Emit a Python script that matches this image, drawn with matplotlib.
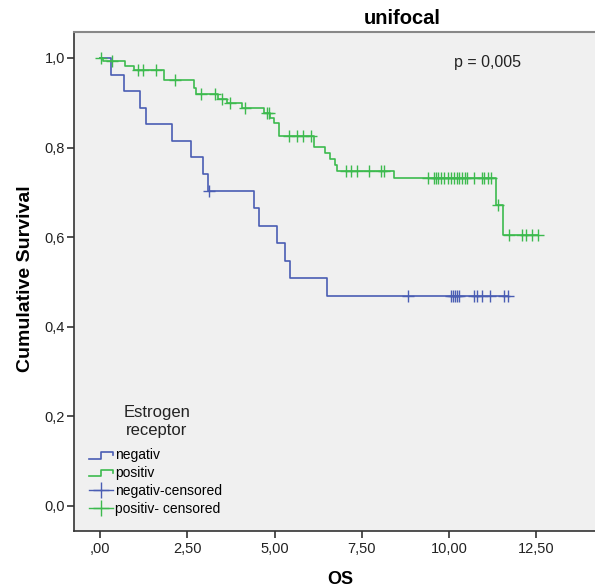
import numpy as np
import matplotlib
matplotlib.use("Agg")
import matplotlib.pyplot as plt
from matplotlib.lines import Line2D
from matplotlib.legend_handler import HandlerBase

plt.rcParams['font.family'] = ['Liberation Sans', 'DejaVu Sans']

# ---- data ----
neg_event_t = [0.32, 0.67, 1.13, 1.30, 2.06, 2.61, 2.96, 3.10, 4.41, 4.55, 5.07, 5.30, 5.45, 6.49]
neg_surv = [0.963, 0.926, 0.889, 0.852, 0.815, 0.778, 0.741, 0.704, 0.665, 0.626, 0.586, 0.547, 0.508, 0.469]
neg_cens_t = [3.12, 8.81, 10.06, 10.12, 10.18, 10.23, 10.27, 10.70, 10.81, 10.93, 11.16, 11.57, 11.70]

pos_event_t = [0.09, 0.72, 0.96, 1.83, 2.70, 2.75, 3.39, 3.62, 4.06, 4.70, 4.87, 4.99, 5.13,
               6.14, 6.43, 6.58, 6.72, 6.78, 8.43, 11.33, 11.54]
pos_surv = [0.993, 0.982, 0.973, 0.951, 0.933, 0.920, 0.908, 0.900, 0.888, 0.877, 0.866, 0.855, 0.826,
            0.801, 0.788, 0.775, 0.761, 0.748, 0.732, 0.672, 0.605]
pos_cens_t = [0.03, 0.35, 1.07, 1.22, 1.59, 2.14, 2.90, 3.30, 3.48, 3.71, 4.14, 4.78, 4.84,
              5.42, 5.65, 5.80, 6.03, 7.04, 7.19, 7.36, 7.71, 8.06, 8.14,
              9.39, 9.57, 9.62, 9.68, 9.77, 9.86, 9.97, 10.06, 10.14, 10.23, 10.29, 10.38, 10.46,
              10.52, 10.70, 10.93, 11.01, 11.10, 11.19, 11.39, 11.71, 12.09, 12.20, 12.38, 12.55]

x_ticks = [0, 2.5, 5, 7.5, 10, 12.5]
x_labels = [',00', '2,50', '5,00', '7,50', '10,00', '12,50']
y_ticks = [0, 0.2, 0.4, 0.6, 0.8, 1.0]
y_labels = ['0,0', '0,2', '0,4', '0,6', '0,8', '1,0']
legend_title = ['Estrogen', 'receptor']
legend_labels = ['negativ', 'positiv', 'negativ-censored', 'positiv- censored']

BLUE = '#4a5db3'
GREEN = '#3dba4e'
BG = '#f0f0f0'


def km_curve(ev_t, surv, cens_t):
    end = max(max(ev_t), max(cens_t))
    t = np.concatenate([[0.0], ev_t, [end]])
    s = np.concatenate([[1.0], surv, [surv[-1]]])
    idx = np.searchsorted(np.asarray(ev_t), np.asarray(cens_t), side='right')
    s_all = np.concatenate([[1.0], surv])
    cs = s_all[idx]
    return t, s, np.asarray(cens_t), cs


fig = plt.figure(figsize=(5.95, 5.88), dpi=100)
fig.patch.set_facecolor('white')
ax = fig.add_axes([74 / 595, 1 - 531 / 588, 1 - 74 / 595 + 0.01, (531 - 32) / 588])
ax.set_facecolor(BG)

for ev, sv, ce, col in [(neg_event_t, neg_surv, neg_cens_t, BLUE),
                        (pos_event_t, pos_surv, pos_cens_t, GREEN)]:
    t, s, ct, cs = km_curve(ev, sv, ce)
    ax.step(t, s, where='post', color=col, lw=1.2)
    ax.plot(ct, cs, linestyle='none', marker='+', ms=9, mew=1.0, color=col)

ax.set_xlim(-0.75, 14.35)
ax.set_ylim(-0.056, 1.058)
ax.set_xticks(x_ticks)
ax.set_xticklabels(x_labels, fontsize=10.5, color='#222222')
ax.set_yticks(y_ticks)
ax.set_yticklabels(y_labels, fontsize=10.5, color='#222222')
ax.tick_params(direction='out', length=5, width=1.2, color='#333333')
ax.tick_params(axis='y', pad=1.5)
ax.tick_params(axis='x', pad=3)
for side in ['left', 'bottom']:
    ax.spines[side].set_color('#333333')
    ax.spines[side].set_linewidth(1.2)
ax.spines['top'].set_color('#888888')
ax.spines['top'].set_linewidth(1.5)
ax.spines['right'].set_visible(False)

fig.text(25 / 595, 1 - 279 / 588, 'Cumulative Survival', rotation=90, ha='center', va='center',
         fontsize=14, fontweight='bold')
fig.text(340 / 595, 1 - 579 / 588, 'OS', ha='center', va='center', fontsize=13, fontweight='bold')
fig.text(402 / 595, 1 - 19 / 588, 'unifocal', ha='center', va='center', fontsize=14.5, fontweight='bold')
fig.text(487 / 595, 1 - 63 / 588, 'p = 0,005', ha='center', va='center', fontsize=11.5, color='#222222')

# legend title (two centred lines)
fig.text(157 / 595, 1 - 412 / 588, legend_title[0], ha='center', va='center', fontsize=12, color='#222222')
fig.text(157 / 595, 1 - 430 / 588, legend_title[1], ha='center', va='center', fontsize=12, color='#222222')


class StepHandler(HandlerBase):
    def create_artists(self, legend, orig_handle, xdescent, ydescent, width, height, fontsize, trans):
        x0 = -xdescent
        y0 = -ydescent
        xs = [x0, x0 + width * 0.5, x0 + width * 0.5, x0 + width, x0 + width]
        ys = [y0 + height * 0.05, y0 + height * 0.05, y0 + height * 0.75, y0 + height * 0.75, y0 + height * 0.4]
        ln = Line2D(xs, ys, color=orig_handle.get_color(), lw=1.2, transform=trans)
        return [ln]


h_neg = Line2D([], [], color=BLUE)
h_pos = Line2D([], [], color=GREEN)
h_negc = Line2D([], [], color=BLUE, marker='+', ms=11, mew=1.0, lw=1.0)
h_posc = Line2D([], [], color=GREEN, marker='+', ms=11, mew=1.0, lw=1.0)
leg = ax.legend([h_neg, h_pos, h_negc, h_posc], legend_labels,
                handler_map={h_neg: StepHandler(), h_pos: StepHandler()},
                loc='upper left', bbox_to_anchor=(89 / 595, 1 - 448 / 588), bbox_transform=fig.transFigure,
                frameon=False, fontsize=10, handlelength=1.75, handletextpad=0.1,
                labelspacing=0.28, borderpad=0.0, borderaxespad=0.0)

fig.savefig('out.png', dpi=100, facecolor='white')
